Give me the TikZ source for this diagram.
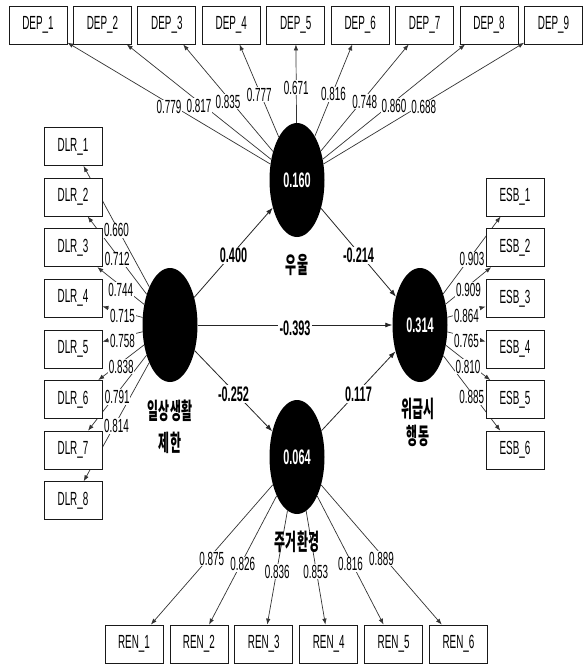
\documentclass[tikz,border=0pt]{standalone}
\usepackage{fontspec}
\setmainfont[FakeStretch=0.52]{Liberation Sans}
\newfontfamily\krfont[FakeStretch=0.52]{Noto Sans CJK KR}
\usetikzlibrary{shapes.geometric,arrows.meta}
\pgfdeclarelayer{bg}
\pgfsetlayers{bg,main}

\begin{document}
\begin{tikzpicture}[x=1pt,y=-1pt,
  ind/.style={draw=black!90, line width=0.8pt, fill=white, minimum width=58pt,
    minimum height=38pt, inner sep=0pt, font=\fontsize{19}{19}\selectfont},
  lv/.style={ellipse, fill=black, minimum width=55pt, minimum height=114pt,
    inner sep=0pt, text=white, font=\fontsize{21}{21}\selectfont\bfseries},
  load/.style={draw=black!80, line width=0.7pt, -{Latex[length=6pt,width=4.5pt]}},
  pth/.style={draw=black!85, line width=0.8pt, -{Latex[length=7pt,width=5pt]}},
  wt/.style={fill=white, inner sep=0.8pt, yshift=-4pt, font=\fontsize{19}{19}\selectfont},
  coef/.style={fill=white, inner sep=1.2pt, yshift=-3pt, font=\fontsize{21}{21}\selectfont\bfseries},
  lvname/.style={font=\krfont\fontsize{23}{23}\selectfont\bfseries}
]
\useasboundingbox (0,0) rectangle (583,665);
\begin{pgfonlayer}{bg}
  \fill[white] (0,0) rectangle (583,665);
\end{pgfonlayer}

% latent variables
\node[lv] (lvdep) at (297,180) {0.160};
\node[lv] (lvdlr) at (170,325) {};
\node[lv] (lvesb) at (420,325) {0.314};
\node[lv] (lvren) at (297,457) {0.064};

% construct names
\node[lvname] (ndep)  at (297,265) {우울};
\node[lvname] (ndlra) at (170,411) {일상생활};
\node[lvname] (ndlrb) at (170,443) {제한};
\node[lvname] (nesba) at (418,409) {위급시};
\node[lvname] (nesbb) at (418,436) {행동};
\node[lvname] (nren)  at (297,542) {주거환경};

% indicators
\foreach \i in {1,...,9}
  \node[ind] (dep\i) at ({38+64.44*(\i-1)},25) {DEP\_\i};
\foreach \i in {1,...,8}
  \node[ind] (dlr\i) at (73,{146.5+50.6*(\i-1)}) {DLR\_\i};
\foreach \i in {1,...,6}
  \node[ind] (esb\i) at (515,{197.1+50.6*(\i-1)}) {ESB\_\i};
\foreach \i in {1,...,6}
  \node[ind] (ren\i) at ({134+64.9*(\i-1)},644) {REN\_\i};

% connectors, kept under the boxes
\begin{pgfonlayer}{bg}
  \foreach \i in {1,...,9}
    \draw[load] (lvdep) -- coordinate[midway] (mdep\i) (dep\i);
  \foreach \i in {1,...,8}
    \draw[load] (lvdlr) -- coordinate[midway] (mdlr\i) (dlr\i);
  \foreach \i in {1,...,6}
    \draw[load] (lvesb) -- coordinate[midway] (mesb\i) (esb\i);
  \foreach \i in {1,...,6}
    \draw[load] (lvren) -- coordinate[midway] (mren\i) (ren\i);
  \draw[pth] (lvdlr) -- coordinate[midway] (pa) (lvdep);
  \draw[pth] (lvdep) -- coordinate[midway] (pb) (lvesb);
  \draw[pth] (lvdlr) -- coordinate[midway] (pc) (lvesb);
  \draw[pth] (lvdlr) -- coordinate[midway] (pd) (lvren);
  \draw[pth] (lvren) -- coordinate[midway] (pe) (lvesb);
\end{pgfonlayer}

% outer loadings
\foreach \v [count=\i] in {0.779,0.817,0.835,0.777,0.671,0.816,0.748,0.860,0.688}
  \node[wt] (ldep\i) at (mdep\i) {\v};
\foreach \v [count=\i] in {0.660,0.712,0.744,0.715,0.758,0.838,0.791,0.814}
  \node[wt] (ldlr\i) at (mdlr\i) {\v};
\foreach \v [count=\i] in {0.903,0.909,0.864,0.765,0.810,0.885}
  \node[wt] (lesb\i) at (mesb\i) {\v};
\foreach \v [count=\i] in {0.875,0.826,0.836,0.853,0.816,0.889}
  \node[wt] (lren\i) at (mren\i) {\v};

% path coefficients
\node[coef] (ca) at (pa) {0.400};
\node[coef] (cb) at (pb) {-0.214};
\node[coef] (cc) at (pc) {-0.393};
\node[coef] (cd) at (pd) {-0.252};
\node[coef] (ce) at (pe) {0.117};
\end{tikzpicture}
\end{document}
